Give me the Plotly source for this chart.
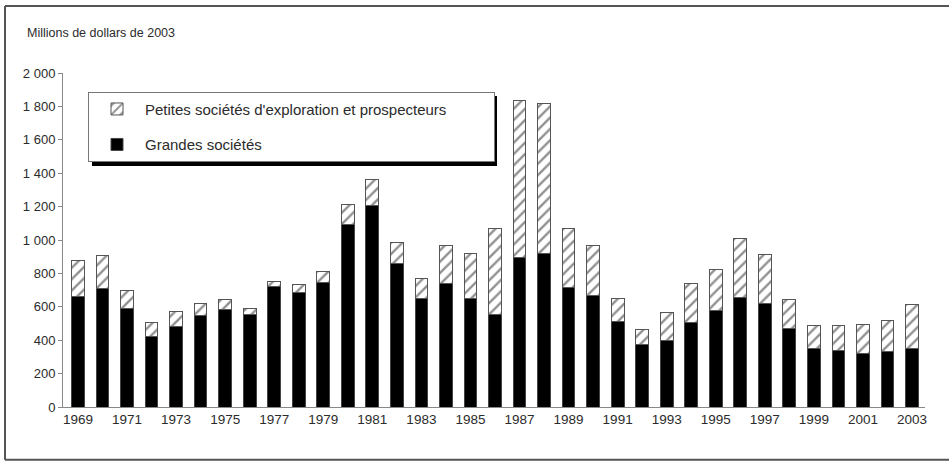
import plotly.graph_objects as go

years = list(range(1969, 2004))
grandes = [660, 712, 588, 424, 484, 548, 584, 552, 722, 688, 746, 1090, 1206, 860, 652,
           740, 648, 556, 894, 922, 718, 670, 510, 372, 398, 508, 578, 658, 618, 472,
           350, 340, 320, 330, 350]
totals = [878, 905, 698, 505, 572, 622, 646, 592, 754, 735, 814, 1212, 1360, 984, 768,
          968, 920, 1068, 1834, 1820, 1070, 970, 652, 466, 568, 738, 826, 1008, 916, 646,
          486, 490, 494, 516, 616]
petites = [t - g for t, g in zip(totals, grandes)]
xtick_years = list(range(1969, 2004, 2))
ytick_vals = list(range(0, 2001, 200))

W, H = 949, 461
L, R, T, B = 63, 24, 73, 54.3
pw, ph = W - L - R, H - T - B

def px(x):
    return (x - L) / pw

def py(y):
    return (H - B - y) / ph

font = "Arial, Liberation Sans, sans-serif"
txt = "#2b2b2b"
pad = "\u00a0" * 10

fig = go.Figure()
fig.add_trace(go.Bar(
    x=years, y=grandes, name="Grandes sociétés", legendgroup="g", legendrank=2,
    marker=dict(color="black", line=dict(color="#444", width=1)),
))
fig.add_trace(go.Bar(
    x=years, y=petites, name="Petites sociétés d'exploration et prospecteurs" + pad,
    legendgroup="p", legendrank=1,
    marker=dict(color="white", line=dict(color="#555", width=1),
                pattern=dict(shape="/", fgcolor="#222", bgcolor="white", size=8, solidity=0.3)),
))

shapes = [
    # legend shadow
    dict(type="rect", xref="paper", yref="paper", x0=px(92), x1=px(497), y0=py(96), y1=py(166),
         fillcolor="black", line=dict(width=0), layer="above"),
    # outer frame (left, top, bottom)
    dict(type="line", xref="paper", yref="paper", x0=px(5), x1=px(5), y0=py(6), y1=py(459.5),
         line=dict(color="#555", width=2)),
    dict(type="line", xref="paper", yref="paper", x0=px(5), x1=px(960), y0=py(6), y1=py(6),
         line=dict(color="#555", width=2)),
    dict(type="line", xref="paper", yref="paper", x0=px(5), x1=px(960), y0=py(459.5), y1=py(459.5),
         line=dict(color="#555", width=2)),
]

fig.update_layout(
    width=W, height=H,
    margin=dict(l=L, r=R, t=T, b=B, autoexpand=False),
    paper_bgcolor="white", plot_bgcolor="white",
    barmode="stack", bargap=0.48,
    separators=", ",
    font=dict(family=font, size=13, color=txt),
    showlegend=True,
    legend=dict(
        x=px(88), y=py(91.7), xanchor="left", yanchor="top",
        bgcolor="white", bordercolor="#777", borderwidth=1,
        font=dict(family=font, size=15, color=txt),
        traceorder="grouped", tracegroupgap=13, itemwidth=46,
    ),
    xaxis=dict(
        range=[1968.39, 2003.53], tickvals=xtick_years, ticks="", showgrid=False,
        showline=True, linecolor="#888", linewidth=1, zeroline=False,
        tickfont=dict(size=13.5, color=txt),
    ),
    yaxis=dict(
        range=[0, 2000], tickvals=ytick_vals, tickformat=",d", ticks="outside", ticklen=4,
        tickcolor="#888", showgrid=False, showline=True, linecolor="#888", linewidth=1,
        zeroline=False, tickfont=dict(size=13, color=txt),
    ),
    shapes=shapes,
    annotations=[dict(text="Millions de dollars de 2003", xref="paper", yref="paper",
                      x=px(25), y=py(33), xanchor="left", yanchor="middle", showarrow=False,
                      font=dict(family=font, size=12.5, color=txt))],
)

fig.write_html("out.html", config={"displayModeBar": False},
               post_script="document.body.style.margin='0px';")
